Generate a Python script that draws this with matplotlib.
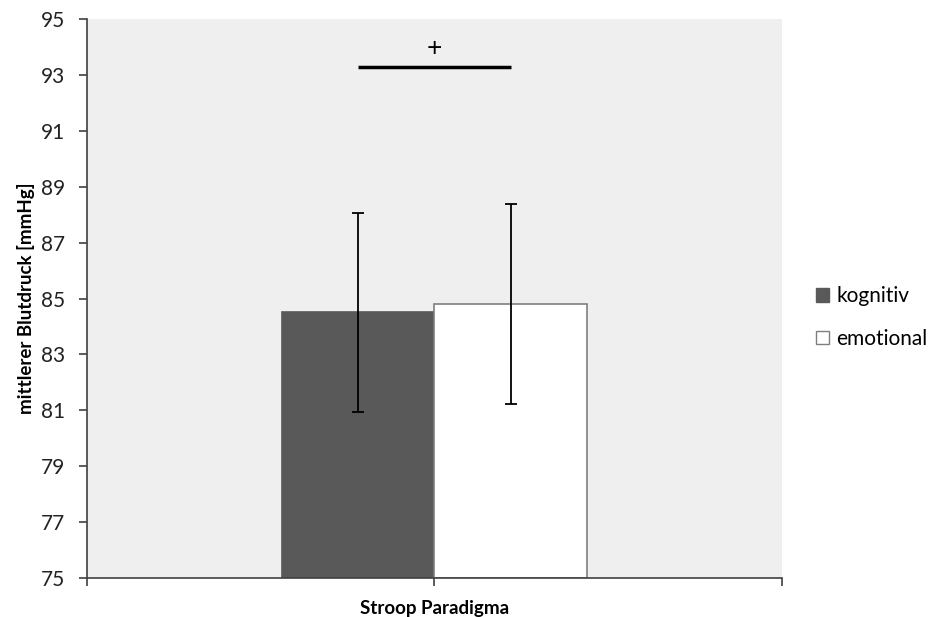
import matplotlib
matplotlib.use("Agg")
import matplotlib.pyplot as plt
from matplotlib.patches import Patch

plt.rcParams['font.family'] = ['Lato', 'DejaVu Sans']

# data
conditions = ["kognitiv", "emotional"]
means = [84.5, 84.8]
errors = [3.55, 3.58]
category = "Stroop Paradigma"
bar_colors = ["#595959", "#ffffff"]
yticks = [75, 77, 79, 81, 83, 85, 87, 89, 91, 93, 95]
sig_level = 93.3
sig_label = "+"

fig = plt.figure(figsize=(9.34, 6.17), dpi=100)
ax = fig.add_axes([0.0931, 0.0632, 0.7442, 0.906])
ax.set_facecolor("#efefef")

width = 0.22
offsets = [-width / 2, width / 2]
for i in range(len(conditions)):
    ax.bar(offsets[i], means[i] - 75, bottom=75, width=width, color=bar_colors[i],
           edgecolor="#7f7f7f" if i == 1 else bar_colors[i], linewidth=1.2,
           label=conditions[i], zorder=2)
    ax.errorbar(offsets[i], means[i], yerr=errors[i], color="black", capsize=4,
                elinewidth=1.3, capthick=1.3, zorder=3)

# significance marker
ax.plot([offsets[0], offsets[1]], [sig_level, sig_level], color="black", lw=2.5,
        zorder=3, solid_capstyle="butt")
ax.text(0, sig_level + 0.2, sig_label, ha="center", va="bottom", fontsize=19)

ax.set_xlim(-0.5, 0.5)
ax.set_ylim(75, 95)
ax.set_yticks(yticks)
ax.set_yticklabels([str(t) for t in yticks], fontsize=15, color="#222222")
ax.set_xticks([-0.5, 0, 0.5])
ax.set_xticklabels(["", "", ""])
ax.tick_params(axis="both", direction="out", length=6, width=1.2, color="#404040")
ax.tick_params(axis="y", pad=10)
ax.text(0, 74.2, category, ha="center", va="top", fontsize=13.5, fontweight="bold")
ax.set_ylabel("mittlerer Blutdruck [mmHg]", fontsize=13.5, fontweight="bold", labelpad=4)

for side in ["top", "right"]:
    ax.spines[side].set_visible(False)
for side in ["left", "bottom"]:
    ax.spines[side].set_color("#404040")
    ax.spines[side].set_linewidth(1.2)

handles = [Patch(facecolor=bar_colors[0], edgecolor=bar_colors[0]),
           Patch(facecolor=bar_colors[1], edgecolor="#7f7f7f")]
fig.legend(handles, conditions, loc="center left", bbox_to_anchor=(0.874, 0.485),
           frameon=False, fontsize=15, handlelength=0.6, handleheight=0.6,
           handletextpad=0.35, labelspacing=1.1, borderpad=0, borderaxespad=0)

fig.savefig("out.png", dpi=100)
